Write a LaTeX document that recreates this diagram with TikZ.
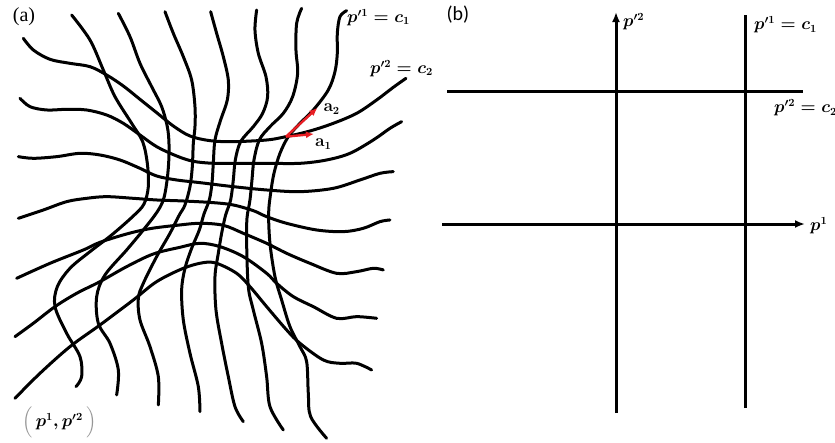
\documentclass[tikz,border=0pt]{standalone}
\usepackage{amsmath}
\usepackage{fontspec}
\usetikzlibrary{arrows.meta}
\newfontfamily\panelsans{Carlito}
\newfontfamily\panelserif{Liberation Serif}
\definecolor{vecred}{RGB}{232,30,36}
\definecolor{bracegray}{RGB}{150,150,150}
\tikzset{
  gridcurve/.style={line width=3pt,line cap=round,smooth,tension=0.55},
  axisline/.style={line width=3pt},
  axisarrow/.style={axisline,-{Latex[length=10pt,width=8pt]}},
  basevec/.style={draw=vecred,line width=2.4pt,-{Latex[length=8pt,width=7pt]}},
  mathlbl/.style={font=\fontsize{16}{18}\selectfont\boldmath,inner sep=0pt},
  panellbl/.style={font=\panelserif\fontsize{20}{22}\selectfont,inner sep=0pt}
}

\begin{document}
\begin{tikzpicture}[x=1pt,y=-1pt]
  \useasboundingbox (0,0) rectangle (835,442);

  % (a) curvilinear coordinate lines
  \begin{scope}[x=0.3333pt,y=-0.3333pt]
    % p'1 = const
    \draw[gridcurve] plot coordinates {(215,45) (270,120) (310,210) (345,290) (395,370) (428,425) (442,490) (445,560) (432,612) (400,648) (335,705) (270,755) (210,805) (172,860) (165,920) (200,1000) (240,1070) (245,1130) (228,1160)};
    \draw[gridcurve] plot coordinates {(355,40) (390,110) (420,190) (455,260) (485,320) (502,380) (507,430) (506,490) (500,550) (490,600) (470,638) (430,690) (380,750) (315,825) (290,890) (295,970) (330,1030) (355,1110) (350,1185)};
    \draw[gridcurve] plot coordinates {(495,35) (520,100) (550,170) (575,240) (585,320) (585,380) (580,430) (577,500) (570,560) (555,615) (538,645) (510,700) (470,770) (430,850) (415,895) (420,960) (450,1040) (475,1130) (475,1215)};
    \draw[gridcurve] plot coordinates {(632,35) (650,100) (670,170) (685,240) (682,300) (662,360) (645,420) (640,490) (636,550) (628,600) (612,642) (598,690) (575,745) (555,805) (545,870) (550,960) (570,1060) (595,1160) (600,1235)};
    \draw[gridcurve] plot coordinates {(770,30) (765,90) (775,160) (798,230) (803,290) (788,340) (760,380) (722,425) (706,480) (700,540) (692,600) (677,645) (665,700) (655,760) (645,830) (648,930) (665,1030) (685,1130) (705,1220) (730,1265)};
    \draw[gridcurve] plot coordinates {(905,25) (890,70) (888,150) (893,220) (878,290) (850,340) (810,380) (778,420) (762,480) (756,540) (750,600) (741,655) (740,730) (745,860) (760,930) (785,1030) (800,1130) (810,1220) (850,1290)};
    \draw[gridcurve] plot coordinates {(1040,32) (1020,50) (1012,100) (1012,160) (1005,215) (985,270) (940,330) (900,370) (865,410) (840,460) (822,520) (812,580) (806,640) (810,730) (825,830) (845,900) (870,980) (900,1040) (920,1085) (925,1180) (932,1250) (980,1315)};
    % p'2 = const
    \draw[gridcurve] plot coordinates {(70,115) (100,150) (150,178) (210,190) (270,200) (320,225) (370,258) (420,298) (470,338) (520,378) (570,408) (630,422) (700,425) (800,420) (858,410) (930,393) (1000,370) (1070,340) (1130,300) (1180,262) (1218,235)};
    \draw[gridcurve] plot coordinates {(60,295) (90,320) (140,330) (200,328) (260,330) (320,345) (370,370) (420,405) (470,440) (530,468) (580,484) (640,490) (700,490) (800,490) (900,490) (980,480) (1050,460) (1120,420) (1170,385) (1205,365)};
    \draw[gridcurve] plot coordinates {(55,470) (100,475) (170,470) (240,460) (300,465) (360,480) (420,505) (470,528) (530,540) (600,548) (700,560) (800,570) (900,575) (1000,565) (1080,540) (1140,520) (1180,515)};
    \draw[gridcurve] plot coordinates {(55,655) (130,630) (200,605) (260,595) (320,590) (400,595) (470,600) (550,603) (640,608) (700,615) (760,632) (800,650) (860,670) (950,690) (1030,695) (1090,685) (1140,665) (1170,660)};
    \draw[gridcurve] plot coordinates {(50,835) (150,790) (250,750) (300,727) (380,702) (450,686) (530,676) (600,670) (670,676) (730,700) (800,730) (860,760) (930,790) (1010,820) (1070,815) (1120,805) (1150,810)};
    \draw[gridcurve] plot coordinates {(45,1010) (100,970) (165,920) (230,880) (300,845) (380,800) (460,762) (540,742) (600,730) (660,740) (730,770) (800,820) (830,850) (880,890) (940,920) (1010,955) (1070,950) (1130,955)};
    \draw[gridcurve] plot coordinates {(45,1195) (120,1120) (210,1040) (300,975) (400,900) (470,845) (550,805) (610,788) (650,790) (710,820) (750,860) (800,920) (860,990) (900,1030) (970,1080) (1020,1090) (1070,1090) (1115,1110)};

    % local base vectors
    \coordinate (orig) at (858,410);
    \coordinate (tipA) at (942,402);
    \coordinate (tipB) at (952,324);
    \draw[basevec] (orig) -- (tipA);
    \draw[basevec] (orig) -- (tipB);
    \node[mathlbl] (labA) at (970,432) {$\mathbf{a}_1$};
    \node[mathlbl] (labB) at (995,328) {$\mathbf{a}_2$};

    \node[mathlbl] (levA) at (1136,52) {$p'^{1}=c_1$};
    \node[mathlbl] (levB) at (1205,205) {$p'^{2}=c_2$};
    \node[mathlbl] (pair) at (178,1268)
      {$\color{bracegray}\Bigl(\color{black}\,p^{1},p'^{2}\,\color{bracegray}\Bigr)$};
  \end{scope}
  \node[panellbl] (capA) at (24,17) {(a)};

  % (b) Cartesian coordinate lines
  \node[panellbl,font=\panelsans\fontsize{20}{22}\selectfont] (capB) at (458,15) {(b)};
  \coordinate (yB) at (616,413);
  \coordinate (yT) at (616,12);
  \coordinate (xL) at (442,224);
  \coordinate (xR) at (805,224);
  \coordinate (vB) at (745,408);
  \coordinate (vT) at (745,15);
  \coordinate (hL) at (447,91);
  \coordinate (hR) at (803,91);
  \draw[axisarrow] (yB) -- (yT);
  \draw[axisarrow] (xL) -- (xR);
  \draw[axisline] (vB) -- (vT);
  \draw[axisline] (hL) -- (hR);
  \node[mathlbl,anchor=west] (labY) at (623,22) {$p'^{2}$};
  \node[mathlbl,anchor=west] (labX) at (810,226) {$p^{1}$};
  \node[mathlbl,anchor=west] (labV) at (754,25) {$p'^{1}=c_1$};
  \node[mathlbl,anchor=west] (labH) at (774,108) {$p'^{2}=c_2$};
\end{tikzpicture}
\end{document}
